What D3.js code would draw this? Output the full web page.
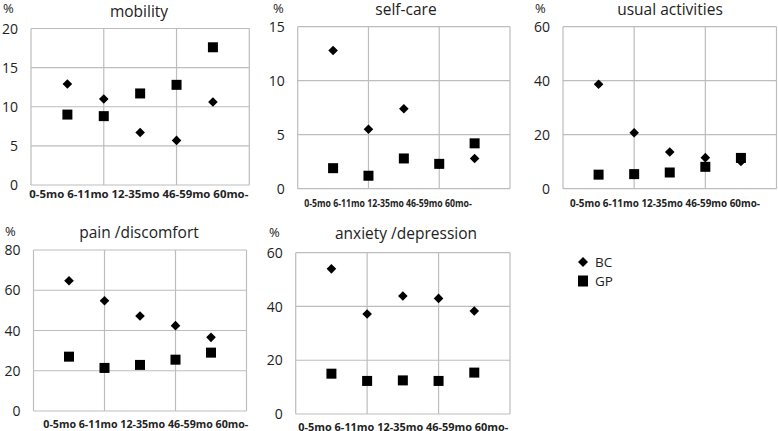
<!DOCTYPE html>
<html><head><meta charset="utf-8">
<script src="https://cdn.jsdelivr.net/npm/d3@7"></script>
<style>body{margin:0;background:#fff}svg{display:block}</style>
</head><body>
<svg id="c" width="778" height="431"></svg>
<script>
// ---- data ----
const categories = ["0-5mo", "6-11mo", "12-35mo", "46-59mo", "60mo-"];
const xValues = [0.5, 1, 1.5, 2, 2.5];
const seriesNames = ["BC", "GP"];
const titles = ["mobility", "self-care", "usual activities", "pain /discomfort", "anxiety /depression"];
const yMaxes = [20, 15, 60, 80, 60];
const yTicks = [[0,5,10,15,20],[0,5,10,15],[0,20,40,60],[0,20,40,60,80],[0,20,40,60]];
const mobilityBC = [12.9, 11.0, 6.7, 5.7, 10.6];
const mobilityGP = [9.0, 8.8, 11.7, 12.8, 17.6];
const selfcareBC = [12.8, 5.5, 7.4, 2.3, 2.8];
const selfcareGP = [1.9, 1.2, 2.8, 2.3, 4.2];
const usualBC = [38.7, 20.7, 13.6, 11.5, 10.1];
const usualGP = [5.2, 5.4, 6.0, 8.1, 11.4];
const painBC = [64.7, 54.8, 47.2, 42.4, 36.6];
const painGP = [27.0, 21.4, 22.9, 25.5, 29.0];
const anxietyBC = [54.0, 37.2, 43.9, 43.0, 38.3];
const anxietyGP = [15.0, 12.3, 12.5, 12.3, 15.4];
const bcSeries = [mobilityBC, selfcareBC, usualBC, painBC, anxietyBC];
const gpSeries = [mobilityGP, selfcareGP, usualGP, painGP, anxietyGP];

// ---- layout ----
const layout = [
  {left:31, right:249.3, top:28.5, bottom:185, labX0:29.3, labX1:248.3, labY:198, titleX:139, titleY:16.5, pctX:3, pctY:13},
  {left:297.7, right:510, top:26.7, bottom:188.7, labX0:304.3, labX1:471.7, labY:206.5, titleX:406, titleY:15, pctX:273, pctY:13},
  {left:563, right:776.5, top:26.7, bottom:188.7, labX0:570, labX1:760, labY:206.5, titleX:670, titleY:15, pctX:535, pctY:13},
  {left:33.5, right:246.5, top:250, bottom:411, labX0:43.3, labX1:248.3, labY:428, titleX:139, titleY:237.5, pctX:5, pctY:236},
  {left:295.7, right:510, top:252.7, bottom:414, labX0:298.3, labX1:508.3, labY:430.5, titleX:406, titleY:238.5, pctX:269, pctY:237}
];
const FONT = "'Open Sans', 'Noto Sans', sans-serif";
const gridColor = "#bdbdbd";
const svg = d3.select("#c");

function diamond(cx, cy, r) {
  return `M${cx},${cy-r}L${cx+r},${cy}L${cx},${cy+r}L${cx-r},${cy}Z`;
}

layout.forEach((L, i) => {
  const g = svg.append("g");
  const x = d3.scaleLinear().domain([0, 3]).range([L.left, L.right]);
  const y = d3.scaleLinear().domain([0, yMaxes[i]]).range([L.bottom, L.top]);

  g.selectAll(".hg").data(yTicks[i]).join("line")
    .attr("x1", L.left).attr("x2", L.right)
    .attr("y1", d => y(d)).attr("y2", d => y(d))
    .attr("stroke", gridColor).attr("stroke-width", 1.2);
  g.selectAll(".vg").data([0, 1, 2, 3]).join("line")
    .attr("x1", d => x(d)).attr("x2", d => x(d))
    .attr("y1", L.top).attr("y2", L.bottom)
    .attr("stroke", gridColor).attr("stroke-width", 1.2);

  g.selectAll(".yt").data(yTicks[i]).join("text")
    .attr("x", L.left - 13).attr("y", d => y(d)).attr("dy", "0.36em")
    .attr("text-anchor", "end").attr("font-family", FONT).attr("font-size", 14)
    .attr("fill", "#222").text(d => d);

  g.append("text").attr("x", L.pctX).attr("y", L.pctY)
    .attr("font-family", FONT).attr("font-size", 13).attr("fill", "#222").text("%");
  g.append("text").attr("x", L.titleX).attr("y", L.titleY).attr("text-anchor", "middle")
    .attr("font-family", FONT).attr("font-size", 15.5).attr("fill", "#222").text(titles[i]);

  g.append("text").attr("x", L.labX0).attr("y", L.labY)
    .attr("font-family", FONT).attr("font-size", 11).attr("font-weight", "bold").attr("fill", "#222")
    .attr("textLength", L.labX1 - L.labX0).attr("lengthAdjust", "spacingAndGlyphs")
    .text(categories.join(" "));

  g.selectAll(".bc").data(bcSeries[i]).join("path")
    .attr("d", (d, j) => diamond(x(xValues[j]), y(d), 4.8))
    .attr("fill", "#000");
  g.selectAll(".gp").data(gpSeries[i]).join("rect")
    .attr("x", (d, j) => x(xValues[j]) - 5).attr("y", d => y(d) - 5)
    .attr("width", 10).attr("height", 10).attr("fill", "#000");
});

// legend
const leg = svg.append("g");
const legY = d3.scalePoint().domain(seriesNames).range([262, 281]);
leg.append("path").attr("d", diamond(583, legY("BC"), 5)).attr("fill", "#000");
leg.append("rect").attr("x", 578).attr("y", legY("GP") - 5.5).attr("width", 10).attr("height", 11).attr("fill", "#000");
leg.selectAll("text").data(seriesNames).join("text")
  .attr("x", 595).attr("y", d => legY(d)).attr("dy", "0.36em")
  .attr("font-family", FONT).attr("font-size", 13.5).attr("fill", "#222").text(d => d);
</script>
</body></html>
